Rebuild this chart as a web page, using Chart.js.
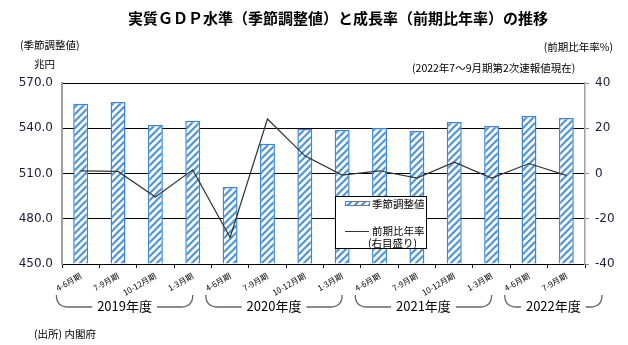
<!DOCTYPE html>
<html lang="ja">
<head>
<meta charset="utf-8">
<script src="https://cdn.jsdelivr.net/npm/chart.js@4"></script>
<style>
  html, body { margin: 0; padding: 0; background: #fff; }
  #wrap { width: 628px; height: 345px; position: relative; }
</style>
</head>
<body>
<div id="wrap"><canvas id="myChart" width="628" height="345"></canvas></div>
<script>
// データ
const quarters = [
  '4-6月期', '7-9月期', '10-12月期', '1-3月期',
  '4-6月期', '7-9月期', '10-12月期', '1-3月期',
  '4-6月期', '7-9月期', '10-12月期', '1-3月期',
  '4-6月期', '7-9月期'
];
const fiscalYears = ['2019年度', '2020年度', '2021年度', '2022年度'];
const gdpLevel = [556.3, 557.4, 542.1, 545.0, 501.0, 529.7, 539.5, 538.8, 540.2, 538.2, 544.1, 541.5, 548.1, 546.8];
const growthRate = [1.2, 0.9, -10.4, 1.6, -28.3, 24.1, 7.8, -0.7, 1.2, -2.0, 5.0, -2.0, 4.4, -0.8];
const leftTicks = [450, 480, 510, 540, 570];
const rightTicks = [-40, -20, 0, 20, 40];

const JP = '"Noto Sans CJK JP", "Noto Sans", sans-serif';
const tickColor = '#1c1c3a';

// 斜線パターン
const makeHatch = () => {
  const c = document.createElement('canvas');
  c.width = 7; c.height = 7;
  const g = c.getContext('2d');
  g.fillStyle = '#fff';
  g.fillRect(0, 0, 7, 7);
  g.strokeStyle = '#4e95dc';
  g.lineWidth = 2.2;
  [[-7, 7, 7, -7], [0, 7, 7, 0], [0, 14, 14, 0]].forEach(([a, b, c2, d]) => {
    g.beginPath(); g.moveTo(a, b); g.lineTo(c2, d); g.stroke();
  });
  return g.createPattern(c, 'repeat');
};
const hatch = makeHatch();

// テキスト・年度ブラケット・凡例
const decorPlugin = {
  id: 'decor',
  afterDraw(chart) {
    const { ctx, chartArea, scales } = chart;
    ctx.save();
    ctx.fillStyle = '#000';
    ctx.textBaseline = 'middle';

    ctx.font = `bold 15px ${JP}`;
    ctx.textAlign = 'center';
    ctx.fillText('実質ＧＤＰ水準（季節調整値）と成長率（前期比年率）の推移', 338, 18);

    ctx.font = `10.5px ${JP}`;
    ctx.textAlign = 'left';
    ctx.fillText('(季節調整値)', 20, 45);
    ctx.fillText('兆円', 34, 64);
    ctx.fillText('(2022年7～9月期第2次速報値現在)', 412, 68);
    ctx.textAlign = 'right';
    ctx.fillText('(前期比年率%)', 613, 47);
    ctx.textAlign = 'left';
    ctx.font = `10.5px ${JP}`;
    ctx.fillText('(出所) 内閣府', 34, 334);

    // 年度ブラケット
    const x = scales.x;
    const starts = quarters.map((q, i) => q === '4-6月期' ? i : -1).filter(i => i >= 0);
    ctx.font = `13px ${JP}`;
    ctx.strokeStyle = '#666';
    ctx.lineWidth = 1.3;
    const yTop = 295, yLine = 307;
    starts.forEach((s, k) => {
      const x0 = x.getPixelForValue(s - 0.65);
      const x1 = Math.min(x.getPixelForValue(s + 3), chartArea.right + 17);
      const cx = (x0 + x1) / 2;
      const label = fiscalYears[k];
      const tw = ctx.measureText(label).width;
      ctx.beginPath();
      ctx.moveTo(x0, yTop);
      ctx.quadraticCurveTo(x0, yLine, x0 + 12, yLine);
      ctx.lineTo(cx - tw / 2 - 5, yLine);
      ctx.moveTo(cx + tw / 2 + 5, yLine);
      ctx.lineTo(x1 - 12, yLine);
      ctx.quadraticCurveTo(x1, yLine, x1, yTop);
      ctx.stroke();
      ctx.textAlign = 'center';
      ctx.fillStyle = '#000';
      ctx.fillText(label, cx, yLine - 1);
    });

    // 凡例
    const lx = 335, ly = 196, lw = 91, lh = 52;
    ctx.fillStyle = '#fff';
    ctx.fillRect(lx, ly, lw, lh);
    ctx.strokeStyle = '#000';
    ctx.lineWidth = 1;
    ctx.strokeRect(lx + 0.5, ly + 0.5, lw, lh);
    ctx.fillStyle = hatch;
    ctx.fillRect(lx + 10, ly + 5, 25, 5);
    ctx.strokeStyle = '#3d85d6';
    ctx.strokeRect(lx + 10.5, ly + 5.5, 24, 4);
    ctx.strokeStyle = '#333';
    ctx.beginPath();
    ctx.moveTo(lx + 10, ly + 35.5);
    ctx.lineTo(lx + 34, ly + 35.5);
    ctx.stroke();
    ctx.fillStyle = '#000';
    ctx.textAlign = 'left';
    ctx.font = `10.5px ${JP}`;
    ctx.fillText('季節調整値', lx + 37, ly + 8);
    ctx.fillText('前期比年率', lx + 37, ly + 35);
    ctx.fillText('(右目盛り)', lx + 33, ly + 47);
    ctx.restore();
  }
};

new Chart(document.querySelector('#myChart').getContext('2d'), {
  data: {
    labels: quarters,
    datasets: [
      {
        type: 'line',
        label: '前期比年率',
        data: growthRate,
        yAxisID: 'y1',
        borderColor: '#333',
        borderWidth: 1.2,
        pointRadius: 0,
        tension: 0,
        order: 0
      },
      {
        type: 'bar',
        label: '季節調整値',
        data: gdpLevel,
        yAxisID: 'y',
        backgroundColor: hatch,
        borderColor: '#3d85d6',
        borderWidth: 1.5,
        categoryPercentage: 1,
        barPercentage: 0.4,
        base: 450,
        order: 1
      }
    ]
  },
  options: {
    responsive: false,
    animation: false,
    devicePixelRatio: 1,
    layout: { padding: { top: 83, left: 0, right: 0, bottom: 0 } },
    plugins: { legend: { display: false }, tooltip: { enabled: false } },
    scales: {
      x: {
        offset: true,
        grid: { display: true, offset: true, drawOnChartArea: false, drawTicks: true, tickLength: 4, color: '#000' },
        border: { color: '#000', width: 1 },
        ticks: {
          autoSkip: false,
          minRotation: 30,
          maxRotation: 30,
          padding: 3,
          color: '#000',
          font: { family: JP, size: 8 }
        },
        afterFit: s => { s.height = 81; }
      },
      y: {
        position: 'left',
        min: 450,
        max: 570,
        afterBuildTicks: s => { s.ticks = leftTicks.map(v => ({ value: v })); },
        grid: { color: '#000', lineWidth: 1, drawTicks: false },
        border: { color: '#a0a0a0', width: 2 },
        ticks: {
          padding: 9,
          color: tickColor,
          font: { family: '"DejaVu Sans", sans-serif', size: 12 },
          callback: v => v.toFixed(1)
        },
        afterFit: s => { s.width = 62; }
      },
      y1: {
        position: 'right',
        min: -40,
        max: 40,
        afterBuildTicks: s => { s.ticks = rightTicks.map(v => ({ value: v })); },
        grid: { drawOnChartArea: false, drawTicks: true, tickLength: 4, color: '#888' },
        border: { color: '#a0a0a0', width: 1.5 },
        ticks: {
          padding: 6,
          color: tickColor,
          font: { family: '"DejaVu Sans", sans-serif', size: 12 }
        },
        afterFit: s => { s.width = 43; }
      }
    }
  },
  plugins: [decorPlugin]
});
</script>
</body>
</html>
